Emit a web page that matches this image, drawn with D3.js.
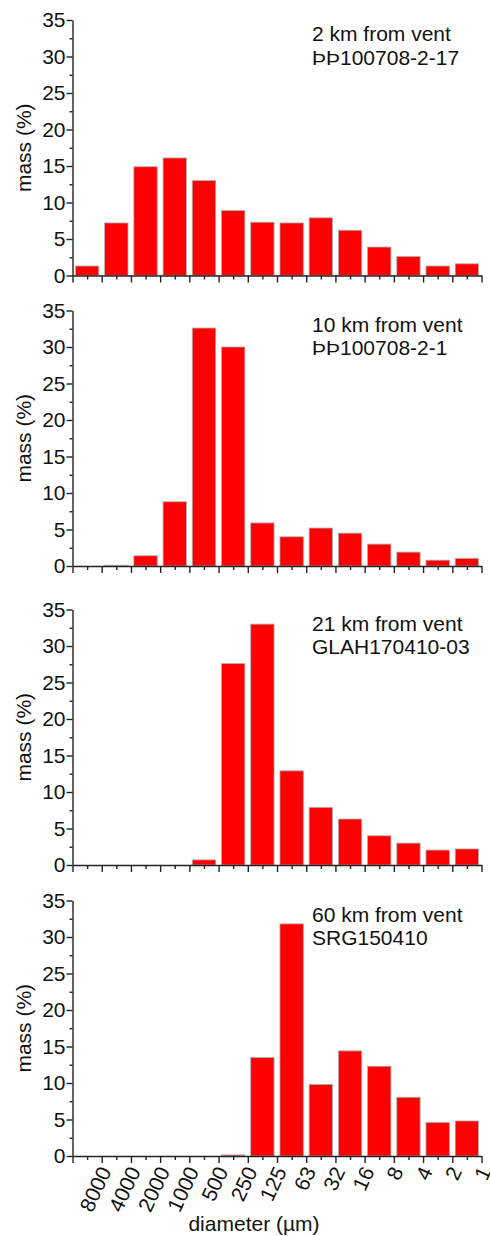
<!DOCTYPE html>
<html>
<head>
<meta charset="utf-8">
<script src="https://cdn.jsdelivr.net/npm/d3@7"></script>
<style>
  body { margin: 0; background: #fff; }
  text { font-family: "Liberation Sans", Arial, sans-serif; }
</style>
</head>
<body>
<script>
// grain size classes (µm), boundaries between bins
var sizeLabels = ["8000", "4000", "2000", "1000", "500", "250", "125", "63", "32", "16", "8", "4", "2", "1"];
var bins = d3.range(14);

// mass (%) per bin, coarse to fine
var mass2km  = [1.3, 7.2, 14.9, 16.1, 13.0, 8.9, 7.3, 7.2, 7.9, 6.2, 3.9, 2.6, 1.3, 1.6];
var mass10km = [0, 0.1, 1.4, 8.8, 32.6, 30.0, 5.9, 4.0, 5.2, 4.5, 3.0, 1.9, 0.8, 1.05];
var mass21km = [0, 0, 0, 0, 0.7, 27.6, 33.0, 12.9, 7.9, 6.3, 4.0, 3.0, 2.05, 2.2];
var mass60km = [0, 0, 0, 0, 0, 0.15, 13.5, 31.8, 9.8, 14.4, 12.3, 8.05, 4.6, 4.8];

var titles = ["2 km from vent", "10 km from vent", "21 km from vent", "60 km from vent"];
var samples = ["ÞÞ100708-2-17", "ÞÞ100708-2-1", "GLAH170410-03", "SRG150410"];
var series = [mass2km, mass10km, mass21km, mass60km];

var yTicks = [0, 5, 10, 15, 20, 25, 30, 35];

var w = 490, h = 1236;
var xL = 72.5, xR = 481.5;
var tops = [20, 310.5, 609.5, 900.5];
var ph = 255.5;

var svg = d3.select("body").append("svg")
  .attr("width", w)
  .attr("height", h);

var xEdge = d3.scaleLinear().domain([0, 14]).range([xL, xR]);
var xBand = d3.scaleBand().domain(bins).range([xL, xR])
  .paddingInner(0.2).paddingOuter(0.1);

series.forEach(function(vals, p) {
  var top = tops[p];
  var y = d3.scaleLinear().domain([0, 35]).range([top + ph, top]);
  var g = svg.append("g");

  // bars
  g.selectAll("rect")
    .data(vals)
    .enter()
    .append("rect")
    .attr("x", function(d, i) { return xBand(i); })
    .attr("width", xBand.bandwidth())
    .attr("y", function(d) { return y(d); })
    .attr("height", function(d) { return y(0) - y(d); })
    .attr("fill", "#ff0000")
    .attr("stroke", "#b0b0b0")
    .attr("stroke-width", 0.8);

  // y axis, minor then major
  g.append("g")
    .attr("transform", "translate(" + xL + ",0)")
    .call(d3.axisLeft(y).tickValues(d3.range(2.5, 35, 5)).tickSize(3).tickFormat(""))
    .call(function(a) { a.select(".domain").remove(); });
  var ya = g.append("g")
    .attr("transform", "translate(" + xL + ",0)")
    .call(d3.axisLeft(y).tickValues(yTicks).tickSize(6).tickPadding(1).tickSizeOuter(0));
  ya.selectAll("text").attr("font-size", 21).attr("fill", "#111")
    .attr("font-family", "Liberation Sans, Arial, sans-serif");

  // x axis, minor then major
  g.append("g")
    .attr("transform", "translate(0," + y(0) + ")")
    .call(d3.axisBottom(xEdge).tickValues(d3.range(0.5, 14, 1)).tickSize(4).tickFormat(""))
    .call(function(a) { a.select(".domain").remove(); });
  var xa = g.append("g")
    .attr("transform", "translate(0," + y(0) + ")")
    .call(d3.axisBottom(xEdge).tickValues(d3.range(0, 15)).tickSize(7).tickSizeOuter(0)
      .tickFormat(function(d) { return (p == 3 && d > 0) ? sizeLabels[d - 1] : ""; }));
  xa.selectAll("text")
    .attr("font-size", 21)
    .attr("fill", "#111")
    .attr("font-family", "Liberation Sans, Arial, sans-serif")
    .attr("text-anchor", "end")
    .attr("x", 0)
    .attr("y", 0)
    .attr("dy", "0.35em")
    .attr("transform", "translate(3,12) rotate(-65)");

  g.selectAll(".domain, .tick line").attr("stroke", "#222").attr("stroke-width", 1.4);

  // label
  svg.append("text")
    .attr("transform", "rotate(-90)")
    .attr("x", -(top + ph / 2))
    .attr("y", 31)
    .attr("text-anchor", "middle")
    .attr("font-size", 21)
    .attr("fill", "#111")
    .text("mass (%)");

  svg.append("text")
    .attr("x", 312)
    .attr("y", top + 21)
    .attr("font-size", 21)
    .attr("fill", "#111")
    .text(titles[p]);
  svg.append("text")
    .attr("x", 312)
    .attr("y", top + 44.5)
    .attr("font-size", 21)
    .attr("fill", "#111")
    .text(samples[p]);
});

svg.append("text")
  .attr("x", 254)
  .attr("y", 1231)
  .attr("text-anchor", "middle")
  .attr("font-size", 21)
  .attr("fill", "#111")
  .text("diameter (µm)");
</script>
</body>
</html>
